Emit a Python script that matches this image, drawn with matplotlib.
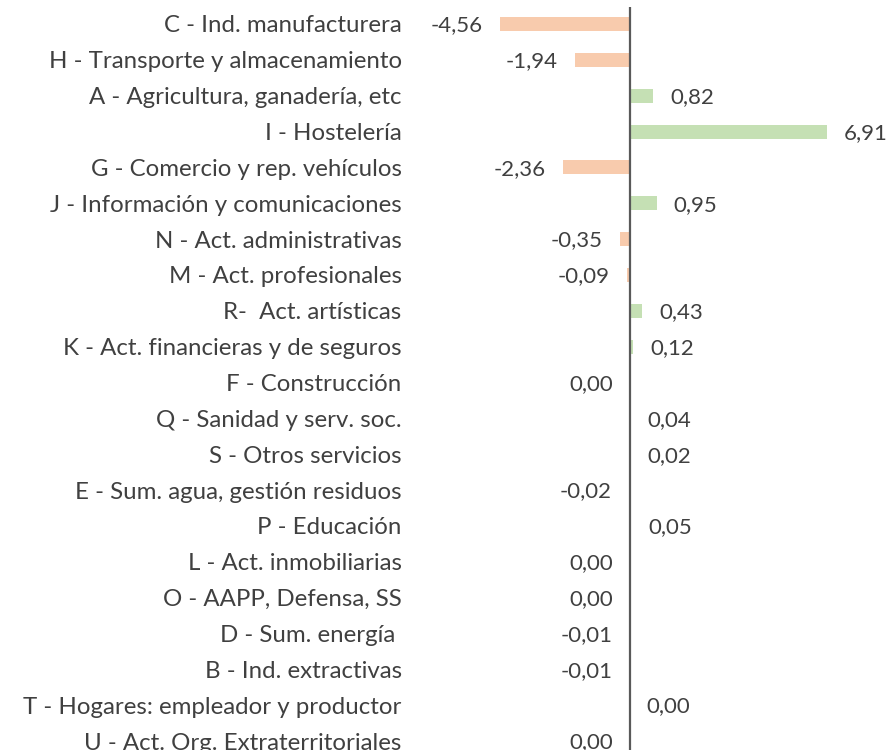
import matplotlib.pyplot as plt

sectors = [
    "C - Ind. manufacturera",
    "H - Transporte y almacenamiento",
    "A - Agricultura, ganadería, etc",
    "I - Hostelería",
    "G - Comercio y rep. vehículos",
    "J - Información y comunicaciones",
    "N - Act. administrativas",
    "M - Act. profesionales",
    "R-  Act. artísticas",
    "K - Act. financieras y de seguros",
    "F - Construcción",
    "Q - Sanidad y serv. soc.",
    "S - Otros servicios",
    "E - Sum. agua, gestión residuos",
    "P - Educación",
    "L - Act. inmobiliarias",
    "O - AAPP, Defensa, SS",
    "D - Sum. energía ",
    "B - Ind. extractivas",
    "T - Hogares: empleador y productor",
    "U - Act. Org. Extraterritoriales",
]
# values in p.p.; tiny ones keep the sign seen in the label placement
values = [-4.56, -1.94, 0.82, 6.91, -2.36, 0.95, -0.35, -0.09, 0.43, 0.12,
          -0.001, 0.04, 0.02, -0.02, 0.05, -0.001, -0.001, -0.01, -0.01,
          0.001, -0.001]

NEG = "#F8CBAD"
POS = "#C5E0B4"
TXT = "#404040"

plt.rcParams['font.family'] = ['Lato', 'DejaVu Sans']


def fmt(v):
    s = f"{v:.2f}".replace('.', ',')
    if s == "-0,00":
        s = "0,00"
    return s


fig = plt.figure(figsize=(8.88, 7.5), dpi=100)
ax = fig.add_axes([410 / 888, 0, 478 / 888, 1])

ys = list(range(len(sectors)))
colors = [POS if v > 0 else NEG for v in values]
ax.barh(ys, values, height=0.39, color=colors, edgecolor='none', zorder=2)

ax.set_xlim(-7.72, 9.05)
ax.set_ylim(20.25, -0.669)
ax.vlines(0, -0.47, 20.3, color="#595959", lw=1.6, zorder=3)

ax.set_yticks(ys, sectors)
ax.tick_params(axis='y', length=0, pad=6, labelsize=17.3, labelcolor=TXT)
ax.set_xticks([])
for sp in ax.spines.values():
    sp.set_visible(False)

for y, v in zip(ys, values):
    if v > 0:
        ax.annotate(fmt(v), (v, y), xytext=(12, -1), textcoords='offset points',
                    ha='left', va='center', fontsize=16, color=TXT)
    else:
        ax.annotate(fmt(v), (v, y), xytext=(-12.5, -1), textcoords='offset points',
                    ha='right', va='center', fontsize=16, color=TXT)

plt.savefig('out.png', dpi=100)
